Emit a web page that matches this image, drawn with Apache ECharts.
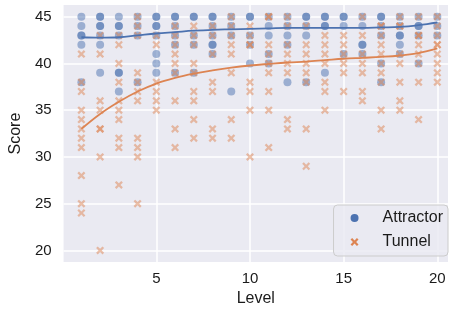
<!DOCTYPE html>
<html>
<head>
<meta charset="utf-8">
<script src="https://cdn.jsdelivr.net/npm/echarts@6/dist/echarts.min.js"></script>
<style>
html, body { margin: 0; padding: 0; background: #fff; }
#chart { width: 457px; height: 312px; }
</style>
</head>
<body>
<div id="chart"></div>
<script>
// scores per level (index 0 = level 1)
const levels = [1, 2, 3, 4, 5, 6, 7, 8, 9, 10, 11, 12, 13, 14, 15, 16, 17, 18, 19, 20];
const attractorScores = [
    [45, 44, 43, 43, 42, 38],
    [45, 45, 44, 44, 43, 42, 39],
    [45, 44, 44, 43, 39, 39, 37],
    [45, 44, 43, 38],
    [45, 45, 44, 44, 43, 41, 40, 39],
    [45, 45, 44, 43, 42, 39],
    [45, 45, 43, 42, 39],
    [45, 45, 44, 43, 42, 42, 41],
    [45, 44, 43, 37],
    [45, 45, 43, 42, 40],
    [45, 44, 43, 41, 40],
    [45, 44, 43, 42, 38],
    [45, 45, 44, 43, 38],
    [45, 45, 44, 44, 39],
    [45, 45, 44, 41],
    [45, 44, 42, 42, 41],
    [45, 45, 44, 43, 40, 38],
    [45, 44, 43, 43, 42, 41],
    [45, 44, 44, 43, 40],
    [45, 44, 43]
];
const tunnelScores = [
    [41, 38, 37, 35, 34, 33, 32, 31, 28, 25, 24],
    [43, 41, 36, 35, 33, 33, 30, 20],
    [43, 42, 40, 38, 36, 35, 34, 32, 31, 27],
    [45, 44, 43, 39, 38, 37, 36, 32, 31, 30, 25],
    [43, 42, 38, 37, 36, 35],
    [44, 43, 42, 41, 40, 39, 36, 33, 31],
    [44, 43, 42, 40, 39, 37, 36, 34, 32],
    [44, 43, 41, 38, 37, 33, 32],
    [45, 44, 43, 42, 41, 39, 34, 32],
    [44, 43, 42, 42, 38, 37, 35, 30],
    [45, 45, 42, 41, 40, 39, 37, 35, 31],
    [45, 44, 42, 41, 40, 39, 34, 33],
    [44, 42, 41, 40, 39, 38, 33, 29],
    [43, 42, 41, 40, 38, 37, 35],
    [43, 42, 41, 40, 39, 37],
    [45, 43, 41, 40, 39, 37, 36],
    [44, 44, 43, 42, 41, 40, 39, 38, 35, 33],
    [45, 44, 44, 41, 40, 38, 36, 35],
    [45, 43, 43, 42, 41, 40, 38, 34],
    [45, 44, 43, 42, 42, 41, 40, 39, 38]
];
const attractorFit = [42.8, 42.75, 42.8, 43.0, 43.2, 43.35, 43.5, 43.6, 43.65, 43.7, 43.75, 43.8, 43.8, 43.8, 43.8, 43.8, 43.85, 43.9, 44.1, 44.4];
const tunnelFit = [33.0, 34.6, 35.9, 37.0, 37.85, 38.45, 38.9, 39.25, 39.55, 39.78, 39.95, 40.1, 40.2, 40.35, 40.5, 40.6, 40.7, 40.85, 41.1, 41.6];
const xTicks = [5, 10, 15, 20];
const yTicks = [20, 25, 30, 35, 40, 45];

const blue = '#4c72b0';
const orange = '#dd8452';
const xMarker = 'path://M2,0L5,3L8,0L10,2L7,5L10,8L8,10L5,7L2,10L0,8L3,5L0,2Z';

function toPoints(byLevel) {
    let pts = [];
    byLevel.forEach((scores, i) => {
        scores.forEach(s => pts.push([levels[i], s]));
    });
    return pts;
}

let myChart = echarts.init(document.getElementById('chart'));
let textColor = '#1a1a1a';
let font = 'Liberation Sans, Arial, sans-serif';
let option = {
    animation: false,
    backgroundColor: '#fff',
    textStyle: { fontFamily: font },
    grid: {
        left: 53, right: 9, top: 5, bottom: 47,
        show: true,
        backgroundColor: '#eaeaf2',
        borderWidth: 0
    },
    legend: {
        orient: 'vertical',
        right: 9,
        top: 205,
        padding: [5, 5, 6, 17],
        itemGap: 8,
        itemWidth: 8,
        itemHeight: 8,
        backgroundColor: 'rgba(234,234,242,0.85)',
        borderColor: '#cccccc',
        borderWidth: 1,
        borderRadius: 4,
        data: [
            { name: 'Attractor', icon: 'circle', itemStyle: { opacity: 1 } },
            { name: 'Tunnel', icon: xMarker, itemStyle: { opacity: 1 } }
        ],
        textStyle: {
            color: textColor,
            fontSize: 16,
            fontFamily: font,
            padding: [0, 0, 0, 19]
        }
    },
    xAxis: {
        type: 'value',
        min: 0.05,
        max: 20.57,
        name: 'Level',
        nameLocation: 'middle',
        nameGap: 28,
        nameTextStyle: { color: textColor, fontSize: 16 },
        axisLine: { show: false },
        axisTick: { show: false, customValues: xTicks },
        axisLabel: { customValues: xTicks, color: textColor, fontSize: 15, margin: 9 },
        splitLine: { show: true, lineStyle: { color: '#ffffff', width: 1.5 } }
    },
    yAxis: {
        type: 'value',
        min: 18.75,
        max: 46.25,
        name: 'Score',
        nameLocation: 'middle',
        nameGap: 35,
        nameTextStyle: { color: textColor, fontSize: 16 },
        axisLine: { show: false },
        axisTick: { show: false, customValues: yTicks },
        axisLabel: { customValues: yTicks, color: textColor, fontSize: 15, margin: 12 },
        splitLine: { show: true, lineStyle: { color: '#ffffff', width: 1.5 } }
    },
    series: [
        {
            name: 'Attractor',
            type: 'scatter',
            symbol: 'circle',
            symbolSize: 8,
            itemStyle: { color: blue, opacity: 0.5 },
            data: toPoints(attractorScores)
        },
        {
            name: 'Tunnel',
            type: 'scatter',
            symbol: xMarker,
            symbolSize: 8,
            itemStyle: { color: orange, opacity: 0.5 },
            data: toPoints(tunnelScores)
        },
        {
            name: 'Attractor fit',
            type: 'line',
            smooth: 0.4,
            showSymbol: false,
            lineStyle: { color: blue, width: 1.8 },
            itemStyle: { color: blue },
            data: levels.map((l, i) => [l, attractorFit[i]]),
            z: 5
        },
        {
            name: 'Tunnel fit',
            type: 'line',
            smooth: 0.4,
            showSymbol: false,
            lineStyle: { color: orange, width: 1.8 },
            itemStyle: { color: orange },
            data: levels.map((l, i) => [l, tunnelFit[i]]),
            z: 5
        }
    ]
};
myChart.setOption(option);
</script>
</body>
</html>
